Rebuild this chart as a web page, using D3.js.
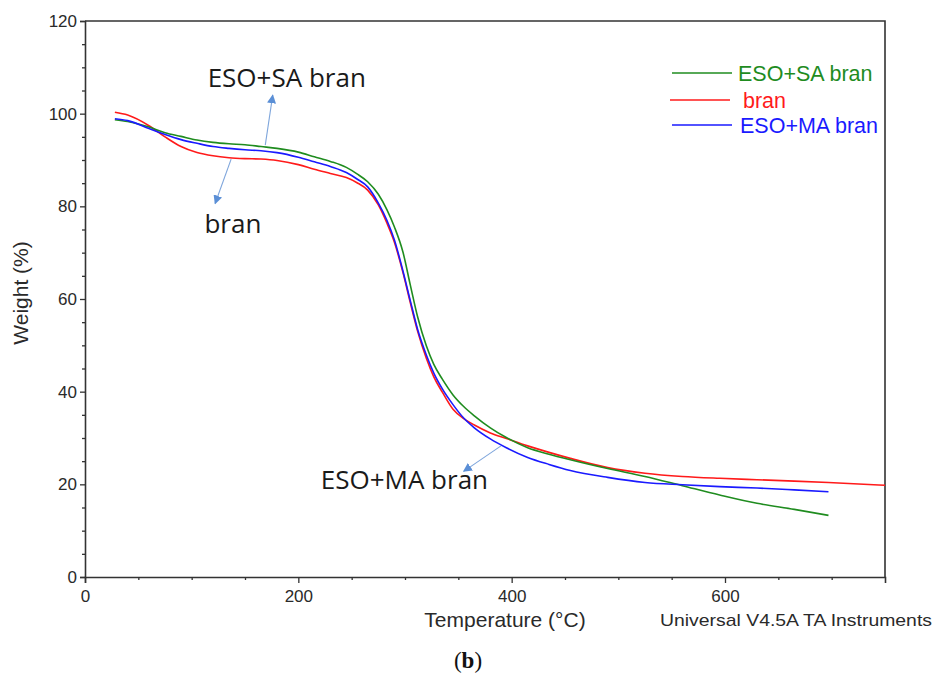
<!DOCTYPE html>
<html>
<head>
<meta charset="utf-8">
<script src="https://cdn.jsdelivr.net/npm/d3@7"></script>
<style>
  html, body { margin: 0; padding: 0; background: #fff; }
  svg { display: block; }
</style>
</head>
<body>
<svg id="chart" width="936" height="684"></svg>
<script>
// ---- data ----
const temperature = [28, 40, 60, 75, 90, 105, 120, 135, 150, 165, 180, 200, 215, 230, 245, 255, 265, 275, 283, 290, 298, 305, 312, 320, 327, 335, 345, 355, 365, 380, 395, 415, 435, 455, 490, 525, 560, 595, 630, 665, 697, 750];

const weightEsoSa = [98.7, 98.3, 97.1, 95.9, 95.1, 94.3, 93.8, 93.5, 93.3, 92.9, 92.5, 91.7, 90.7, 89.7, 88.4, 87.0, 85.3, 82.6, 79.3, 75.6, 70.2, 63.0, 56.0, 49.9, 45.9, 42.7, 39.3, 36.8, 34.8, 32.2, 30.1, 27.9, 26.5, 25.3, 23.4, 21.7, 19.7, 17.7, 15.9, 14.6, 13.3, null];

const weightBran = [100.3, 99.7, 97.4, 95.0, 92.9, 91.6, 90.9, 90.5, 90.3, 90.2, 89.9, 89.0, 88.0, 87.1, 86.2, 85.1, 83.5, 80.3, 76.4, 72.3, 65.8, 59.2, 52.9, 47.2, 43.2, 39.9, 36.2, 34.2, 32.8, 31.1, 29.9, 28.3, 26.9, 25.6, 23.6, 22.4, 21.7, 21.3, 21.0, 20.7, 20.4, 19.8];

const weightEsoMa = [98.9, 98.5, 96.8, 95.5, 94.4, 93.6, 92.9, 92.5, 92.2, 92.0, 91.6, 90.6, 89.6, 88.6, 87.3, 85.9, 84.2, 80.7, 77.0, 72.8, 66.1, 59.6, 53.3, 47.9, 44.0, 40.6, 37.2, 34.3, 32.2, 29.8, 27.9, 25.8, 24.3, 23.0, 21.5, 20.4, 19.9, 19.5, 19.2, 18.8, 18.4, null];

const seriesNames = ["ESO+SA bran", "bran", "ESO+MA bran"];
const seriesColors = ["#1f8c1f", "#ff1a1a", "#1a1aff"];

const yTickValues = [0, 20, 40, 60, 80, 100, 120];
const yMinorTicks = [5, 10, 15, 25, 30, 35, 45, 50, 55, 65, 70, 75, 85, 90, 95, 105, 110, 115];
const xTickValues = [0, 200, 400, 600];
const xMinorTicks = [50, 100, 150, 250, 300, 350, 450, 500, 550, 650, 700];

// annotations: label, text anchor point (data units), arrow tail, arrow head (data units)
const annotLabels = ["ESO+SA bran", "bran", "ESO+MA bran"];
const annotTextAt = [[115, 105.8], [112, 74.2], [221, 19.0]];
const annotArrowFrom = [[169, 93.2], [137, 90.2], [390, 28.3]];
const annotArrowTo = [[176, 104.0], [122, 80.6], [355, 22.8]];

// ---- chart ----
const svg = d3.select("#chart");
const x = d3.scaleLinear().domain([0, 750]).range([85, 885]);
const y = d3.scaleLinear().domain([0, 120]).range([577, 21]);

const axisColor = "#333";
const tickFont = "'Liberation Sans', Arial, sans-serif";

// frame (top + right)
svg.append("path")
  .attr("d", `M${x(0)},${y(120)}H${x(750)}V${y(0)}`)
  .attr("fill", "none").attr("stroke", axisColor).attr("stroke-width", 1.6);

// y axis
const yAxisG = svg.append("g").attr("transform", `translate(${x(0)},0)`);
yAxisG.call(d3.axisLeft(y).tickValues(yTickValues).tickSize(5).tickPadding(3).tickFormat(d3.format("d")));
const yMinorG = svg.append("g").attr("transform", `translate(${x(0)},0)`);
yMinorG.call(d3.axisLeft(y).tickValues(yMinorTicks).tickSize(3).tickFormat(""));
yMinorG.select(".domain").remove();

// x axis
const xAxisG = svg.append("g").attr("transform", `translate(0,${y(0)})`);
xAxisG.call(d3.axisBottom(x).tickValues(xTickValues).tickSize(6).tickPadding(7).tickFormat(d3.format("d")));
const xMinorG = svg.append("g").attr("transform", `translate(0,${y(0)})`);
xMinorG.call(d3.axisBottom(x).tickValues(xMinorTicks).tickSize(3).tickFormat(""));
xMinorG.select(".domain").remove();

[yAxisG, yMinorG, xAxisG, xMinorG].forEach(g => {
  g.selectAll(".domain").attr("stroke", axisColor).attr("stroke-width", 1.6);
  g.selectAll(".tick line").attr("stroke", axisColor).attr("stroke-width", 1.3);
  g.selectAll(".tick text").attr("fill", "#2a2a2a").attr("font-family", tickFont).attr("font-size", 17);
});

// axis titles
svg.append("text")
  .attr("transform", `translate(28,${(y(0) + y(120)) / 2 - 6}) rotate(-90)`)
  .attr("text-anchor", "middle")
  .attr("font-family", tickFont).attr("font-size", 21).attr("fill", "#2a2a2a")
  .text("Weight (%)");

svg.append("text")
  .attr("x", 505).attr("y", 627)
  .attr("text-anchor", "middle")
  .attr("font-family", tickFont).attr("font-size", 21).attr("fill", "#2a2a2a")
  .text("Temperature  (°C)");

svg.append("text")
  .attr("x", 660).attr("y", 626)
  .attr("font-family", tickFont).attr("font-size", 17).attr("fill", "#2a2a2a")
  .attr("textLength", 272).attr("lengthAdjust", "spacingAndGlyphs")
  .text("Universal V4.5A TA Instruments");

// panel label
const pl = svg.append("text")
  .attr("x", 468).attr("y", 668)
  .attr("text-anchor", "middle")
  .attr("font-family", "'Liberation Serif', 'Times New Roman', serif").attr("font-size", 23).attr("fill", "#111");
pl.append("tspan").text("(");
pl.append("tspan").attr("font-weight", "bold").text("b");
pl.append("tspan").text(")");

// curves
const allSeries = [weightEsoSa, weightBran, weightEsoMa];
const line = d3.line()
  .defined(d => d[1] != null)
  .x(d => x(d[0]))
  .y(d => y(d[1]))
  .curve(d3.curveMonotoneX);

// draw order: bran (red), ESO+SA (green), ESO+MA (blue)
[1, 0, 2].forEach(i => {
  const pts = temperature.map((t, k) => [t, allSeries[i][k]]);
  svg.append("path")
    .datum(pts)
    .attr("fill", "none")
    .attr("stroke", seriesColors[i])
    .attr("stroke-width", 1.6)
    .attr("d", line);
});

// legend
const legendY = [73, 100, 125];
const legendX1 = [672, 670, 672];
const legendTextX = [738, 743, 740];
seriesNames.forEach((name, i) => {
  svg.append("line")
    .attr("x1", legendX1[i]).attr("x2", legendX1[i] + 60)
    .attr("y1", legendY[i]).attr("y2", legendY[i])
    .attr("stroke", seriesColors[i]).attr("stroke-width", 1.6);
  svg.append("text")
    .attr("x", legendTextX[i]).attr("y", legendY[i] + 7.5)
    .attr("font-family", tickFont).attr("font-size", 21.5)
    .attr("fill", seriesColors[i])
    .text(name);
});

// annotations
const defs = svg.append("defs");
defs.append("marker")
  .attr("id", "arrowHead")
  .attr("viewBox", "0 0 10 10")
  .attr("refX", 9).attr("refY", 5)
  .attr("markerWidth", 9).attr("markerHeight", 9)
  .attr("markerUnits", "userSpaceOnUse")
  .attr("orient", "auto")
  .append("path").attr("d", "M0,0L10,5L0,10Z").attr("fill", "#5b8fd6");

annotLabels.forEach((lab, i) => {
  svg.append("line")
    .attr("x1", x(annotArrowFrom[i][0])).attr("y1", y(annotArrowFrom[i][1]))
    .attr("x2", x(annotArrowTo[i][0])).attr("y2", y(annotArrowTo[i][1]))
    .attr("stroke", "#7fa6dc").attr("stroke-width", 1.1)
    .attr("marker-end", "url(#arrowHead)");
  svg.append("text")
    .attr("x", x(annotTextAt[i][0])).attr("y", y(annotTextAt[i][1]))
    .attr("font-family", "'Open Sans', Lato, sans-serif").attr("font-size", 26)
    .attr("fill", "#1a1a1a")
    .text(lab);
});
</script>
</body>
</html>
